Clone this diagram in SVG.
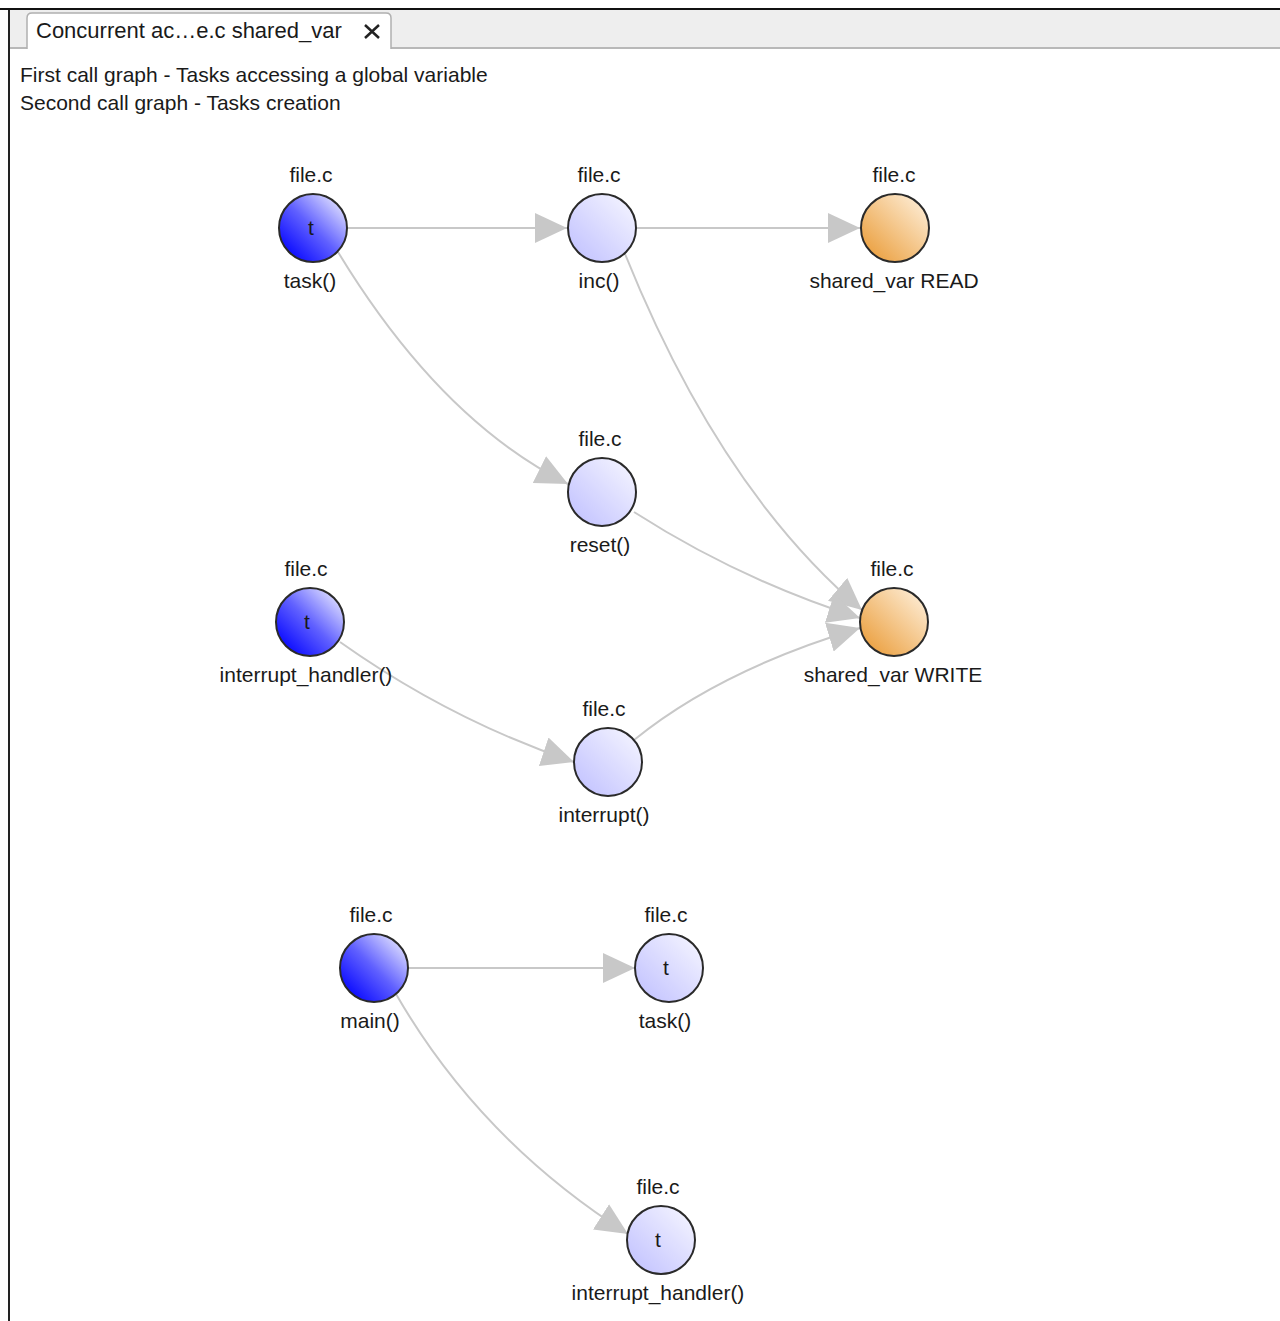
<svg xmlns="http://www.w3.org/2000/svg" width="1280" height="1321" viewBox="0 0 1280 1321">
<style>
text{font-family:"Liberation Sans",Arial,sans-serif;font-size:21px;fill:#1a1a1a}
.c{text-anchor:middle}
.tab{font-size:22px}
.n{stroke:#2a2a2a;stroke-width:2}
.e{fill:none;stroke:#c8c8c8;stroke-width:2}
</style>
<defs>
<linearGradient id="gd" x1="0" y1="1" x2="1" y2="0">
<stop offset="0.15" stop-color="#1010ff"/><stop offset="0.5" stop-color="#6060ff"/><stop offset="0.9" stop-color="#e0e0ff"/>
</linearGradient>
<linearGradient id="gl" x1="0" y1="1" x2="1" y2="0">
<stop offset="0.1" stop-color="#c4c4ff"/><stop offset="0.9" stop-color="#f2f2ff"/>
</linearGradient>
<linearGradient id="go" x1="0" y1="1" x2="1" y2="0">
<stop offset="0.1" stop-color="#eba040"/><stop offset="0.9" stop-color="#fdebd2"/>
</linearGradient>
<marker id="ar" viewBox="0 0 32 30" refX="32" refY="15" markerWidth="32" markerHeight="30" markerUnits="userSpaceOnUse" orient="auto">
<path d="M0 0 L32 15 L0 30 Z" fill="#c8c8c8"/>
</marker>
</defs>
<rect width="1280" height="1321" fill="#ffffff"/>
<g id="frame">
<rect x="9" y="10" width="1271" height="38" fill="#eeeeee"/>
<rect x="0" y="8" width="1280" height="2" fill="#111"/>
<rect x="9" y="47" width="1271" height="2" fill="#b8b8b8"/>
<rect x="8" y="10" width="2" height="1311" fill="#222"/>
<path d="M27 49 V18 Q27 13 32 13 H386 Q391 13 391 18 V49" fill="#ffffff" stroke="#b0b0b0" stroke-width="1.5"/>
<text class="tab" x="36" y="38">Concurrent ac…e.c shared_var</text>
<path d="M365 25 L379 38 M379 25 L365 38" stroke="#222" stroke-width="2.5"/>
<text x="20" y="82">First call graph - Tasks accessing a global variable</text>
<text x="20" y="110">Second call graph - Tasks creation</text>
</g>
<g id="connectors">
<path class="e" d="M348 228 H567" marker-end="url(#ar)"/>
<path class="e" d="M637 228 H860" marker-end="url(#ar)"/>
<path class="e" d="M338 252 Q440 420 568 484" marker-end="url(#ar)"/>
<path class="e" d="M625 254 Q720 490 862 610" marker-end="url(#ar)"/>
<path class="e" d="M634 512 Q740 580 860 618" marker-end="url(#ar)"/>
<path class="e" d="M634 740 Q720 670 860 628" marker-end="url(#ar)"/>
<path class="e" d="M340 642 Q450 720 574 762" marker-end="url(#ar)"/>
<path class="e" d="M408 968 H635" marker-end="url(#ar)"/>
<path class="e" d="M396 994 Q480 1140 628 1234" marker-end="url(#ar)"/>
</g>
<g id="n-task">
<text class="c" x="311" y="182">file.c</text>
<circle class="n" cx="313" cy="228" r="34" fill="url(#gd)"/>
<text class="c" x="311" y="235">t</text>
<text class="c" x="310" y="288">task()</text>
</g>
<g id="n-inc">
<text class="c" x="599" y="182">file.c</text>
<circle class="n" cx="602" cy="228" r="34" fill="url(#gl)"/>
<text class="c" x="599" y="288">inc()</text>
</g>
<g id="n-read">
<text class="c" x="894" y="182">file.c</text>
<circle class="n" cx="895" cy="228" r="34" fill="url(#go)"/>
<text class="c" x="894" y="288">shared_var READ</text>
</g>
<g id="n-reset">
<text class="c" x="600" y="446">file.c</text>
<circle class="n" cx="602" cy="492" r="34" fill="url(#gl)"/>
<text class="c" x="600" y="552">reset()</text>
</g>
<g id="n-ih1">
<text class="c" x="306" y="576">file.c</text>
<circle class="n" cx="310" cy="622" r="34" fill="url(#gd)"/>
<text class="c" x="307" y="629">t</text>
<text class="c" x="306" y="682">interrupt_handler()</text>
</g>
<g id="n-write">
<text class="c" x="892" y="576">file.c</text>
<circle class="n" cx="894" cy="622" r="34" fill="url(#go)"/>
<text class="c" x="893" y="682">shared_var WRITE</text>
</g>
<g id="n-interrupt">
<text class="c" x="604" y="716">file.c</text>
<circle class="n" cx="608" cy="762" r="34" fill="url(#gl)"/>
<text class="c" x="604" y="822">interrupt()</text>
</g>
<g id="n-main">
<text class="c" x="371" y="922">file.c</text>
<circle class="n" cx="374" cy="968" r="34" fill="url(#gd)"/>
<text class="c" x="370" y="1028">main()</text>
</g>
<g id="n-task2">
<text class="c" x="666" y="922">file.c</text>
<circle class="n" cx="669" cy="968" r="34" fill="url(#gl)"/>
<text class="c" x="666" y="975">t</text>
<text class="c" x="665" y="1028">task()</text>
</g>
<g id="n-ih2">
<text class="c" x="658" y="1194">file.c</text>
<circle class="n" cx="661" cy="1240" r="34" fill="url(#gl)"/>
<text class="c" x="658" y="1247">t</text>
<text class="c" x="658" y="1300">interrupt_handler()</text>
</g>
</svg>
